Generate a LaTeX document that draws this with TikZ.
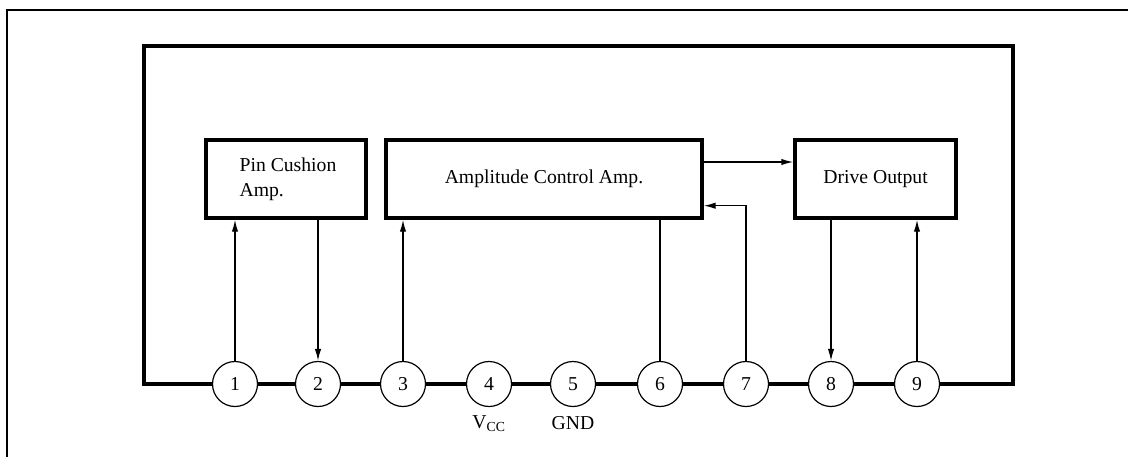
\documentclass[tikz,border=0pt]{standalone}
\usepackage{fontspec}
\setmainfont{Liberation Serif}
\usetikzlibrary{arrows.meta,positioning}

\begin{document}
\begin{tikzpicture}[
        % 以像素为单位，y 轴向下
        x=0.25mm, y=-0.25mm,
        font=\fontsize{14}{18}\selectfont,
        pkg/.style={line width=1mm}, % 封装轮廓粗线
        blk/.style={draw, line width=0.85mm, minimum height=19.5mm, inner sep=0pt},
        pincirc/.style={draw, circle, line width=0.3mm, minimum size=11.25mm, inner sep=0pt, fill=white},
        wire/.style={line width=0.35mm},
        sig/.style={wire, -{Latex[length=3mm,width=1.6mm]}}
    ]
    \useasboundingbox (0,0) rectangle (1128,457);

    % --- 外框（被裁切） ---
    \draw[line width=0.35mm] (1128,10) -- (7,10) -- (7,457);

    % --- 引脚 ---
    \foreach \i/\x in {1/235,2/318,3/403,4/489,5/573,6/660,7/746,8/831,9/917}
        \node[pincirc] (p\i) at (\x,384) {\i};

    % --- 封装轮廓 ---
    \coordinate (BL) at (144,384);
    \coordinate (TL) at (144,46);
    \coordinate (TR) at (1013,46);
    \coordinate (BR) at (1013,384);
    \draw[pkg] (p1) -- (BL) -- (TL) -- (TR) -- (BR) -- (p9);
    \foreach \a [count=\b from 2] in {1,...,8}
        \draw[pkg] (p\a) -- (p\b);

    % --- 功能方框 ---
    \node[blk, minimum width=40mm, align=left] (pcush) at (286,179) {\hspace*{1mm}Pin Cushion\\\hspace*{1mm}Amp.};
    \node[blk, minimum width=79mm] (amp) at (544,179) {Amplitude Control Amp.};
    \node[blk, minimum width=40.25mm] (drive) at (875.5,179) {Drive Output};

    % --- 信号连线 ---
    \draw[sig] (p1) -- (p1 |- pcush.south);
    \draw[sig] (pcush.south -| p2) -- (p2);
    \draw[sig] (p3) -- (p3 |- amp.south);
    \draw[wire] (amp.south -| p6) -- (p6);
    \draw[sig] (p7) |- ([yshift=3.5mm]amp.south east); % 反馈
    \draw[sig] ([yshift=4.25mm]amp.east) -- ([yshift=4.25mm]drive.west);
    \draw[sig] (drive.south -| p8) -- (p8);
    \draw[sig] (p9) -- (p9 |- drive.south);

    % --- 引脚标注 ---
    \node[below=1mm of p4] (vcc) {V\textsubscript{CC}};
    \node[below=1mm of p5] (gnd) {GND};

\end{tikzpicture}
\end{document}
